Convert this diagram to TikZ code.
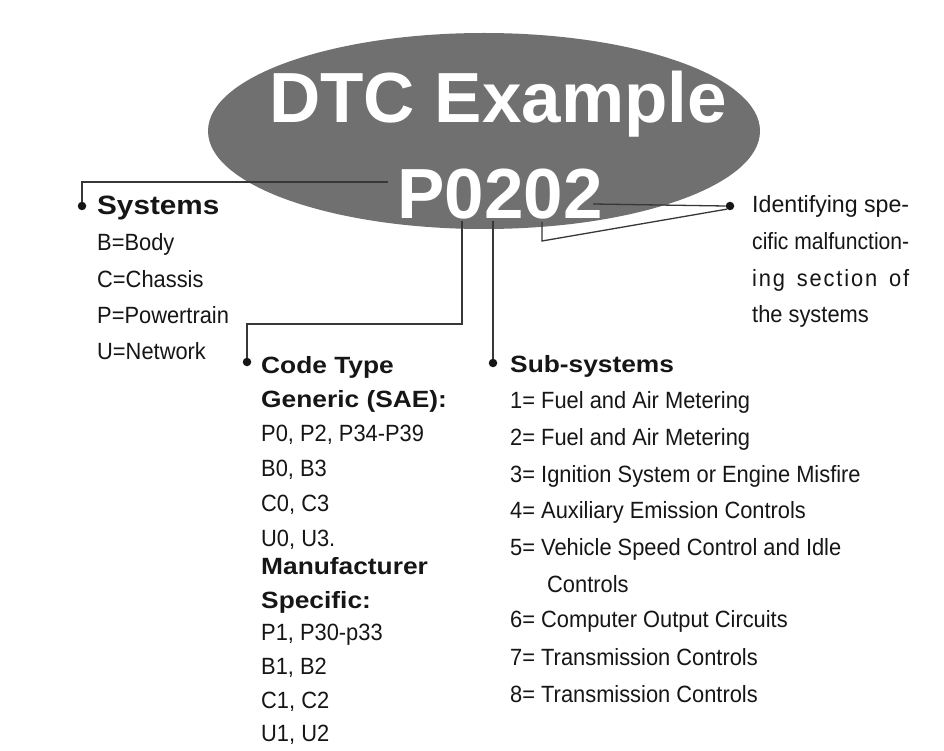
\documentclass[tikz,border=0pt]{standalone}
\usepackage{fontspec}
\usepackage{graphicx}
\setmainfont{Liberation Sans}
\newfontfamily\regf[FakeStretch=0.93]{Liberation Sans}
\newfontfamily\boldf[FakeStretch=1.12]{Liberation Sans}
\newfontfamily\titlef{Liberation Sans}
\usetikzlibrary{shapes.geometric}
\definecolor{ovalgray}{RGB}{112,112,112}
\definecolor{linegray}{RGB}{55,55,55}
\definecolor{txt}{RGB}{22,22,22}
\tikzset{
  conn/.style={draw=linegray, line width=1.3pt},
  dotb/.style={circle, fill=txt, inner sep=0pt, minimum size=8.5pt},
  reg/.style={anchor=base west, inner sep=0pt, text=txt, font=\regf\fontsize{23.5}{28}\selectfont},
  bld/.style={anchor=base west, inner sep=0pt, text=txt, font=\boldf\bfseries\fontsize{23.5}{28}\selectfont},
  ttl/.style={anchor=base, inner sep=0pt, text=white, font=\titlef\bfseries\fontsize{71}{80}\selectfont},
}
\begin{document}
\begin{tikzpicture}[x=1pt,y=1pt]
\useasboundingbox[fill=white] (0,0) rectangle (944,-751);
% oval
\node[ellipse, fill=ovalgray, minimum width=552pt, minimum height=196pt, inner sep=0pt] (oval) at (484,-131) {};
\node[ttl] (title) at (498,-123) {DTC Example};
\node[ttl] (code) at (500,-219) {P0202};
% bullets
\node[dotb] (b1) at (82,-206) {};
\node[dotb] (b2) at (247,-362) {};
\node[dotb] (b3) at (493,-363) {};
\node[dotb] (b4) at (730,-206) {};
% connector anchors
\coordinate (c1) at (388,-182);
\coordinate (c2) at (462,-221);
\coordinate (c2b) at (462,-324);
\coordinate (c3) at (493,-221);
\coordinate (c4) at (593,-204);
\coordinate (c5) at (542,-222);
\coordinate (c5b) at (542,-241);
\draw[conn] (c1) -| (b1);
\draw[conn] (c2) -- (c2b) -| (b2);
\draw[conn] (c3) -- (b3);
\draw[conn] (c4) -- (b4.west);
\draw[conn] (c5) -- (c5b) -- (b4.south west);
% Systems
\node[bld, font=\boldf\bfseries\fontsize{26.5}{30}\selectfont] (sys) at (97,-215) {Systems};
\node[reg] (s1) at (97,-251) {B=Body};
\node[reg] (s2) at (97,-287) {C=Chassis};
\node[reg] (s3) at (97,-323) {P=Powertrain};
\node[reg] (s4) at (97,-359) {U=Network};
% Code type
\node[bld] (ct) at (261,-373) {Code Type};
\node[bld] (ct1) at (261,-407) {Generic (SAE):};
\node[reg] (ct2) at (261,-441) {P0, P2, P34-P39};
\node[reg] (ct3) at (261,-476) {B0, B3};
\node[reg] (ct4) at (261,-511) {C0, C3};
\node[reg] (ct5) at (261,-546) {U0, U3.};
\node[bld] (ct6) at (261,-574) {Manufacturer};
\node[bld] (ct7) at (261,-608) {Specific:};
\node[reg] (ct8) at (261,-640) {P1, P30-p33};
\node[reg] (ct9) at (261,-674) {B1, B2};
\node[reg] (ct10) at (261,-708) {C1, C2};
\node[reg] (ct11) at (261,-741) {U1, U2};
% Sub-systems
\node[bld] (ss) at (510,-372) {Sub-systems};
\node[reg] (ss1) at (510,-408) {1= Fuel and Air Metering};
\node[reg] (ss2) at (510,-445) {2= Fuel and Air Metering};
\node[reg] (ss3) at (510,-482) {3= Ignition System or Engine Misfire};
\node[reg] (ss4) at (510,-518) {4= Auxiliary Emission Controls};
\node[reg] (ss5) at (510,-555) {5= Vehicle Speed Control and Idle};
\node[reg] (ss5b) at (547,-592) {Controls};
\node[reg] (ss6) at (510,-627) {6= Computer Output Circuits};
\node[reg] (ss7) at (510,-665) {7= Transmission Controls};
\node[reg] (ss8) at (510,-702) {8= Transmission Controls};
% Right description
\node[reg] (r1) at (752,-213) {\resizebox{157pt}{\height}{Identifying spe-}};
\node[reg] (r2) at (752,-249) {\resizebox{157pt}{\height}{cific malfunction-}};
\node[reg] (r3) at (752,-286) {\makebox[157pt][s]{\addfontfeature{LetterSpace=8}ing section of}};
\node[reg] (r4) at (752,-322) {the systems};
\end{tikzpicture}
\end{document}
